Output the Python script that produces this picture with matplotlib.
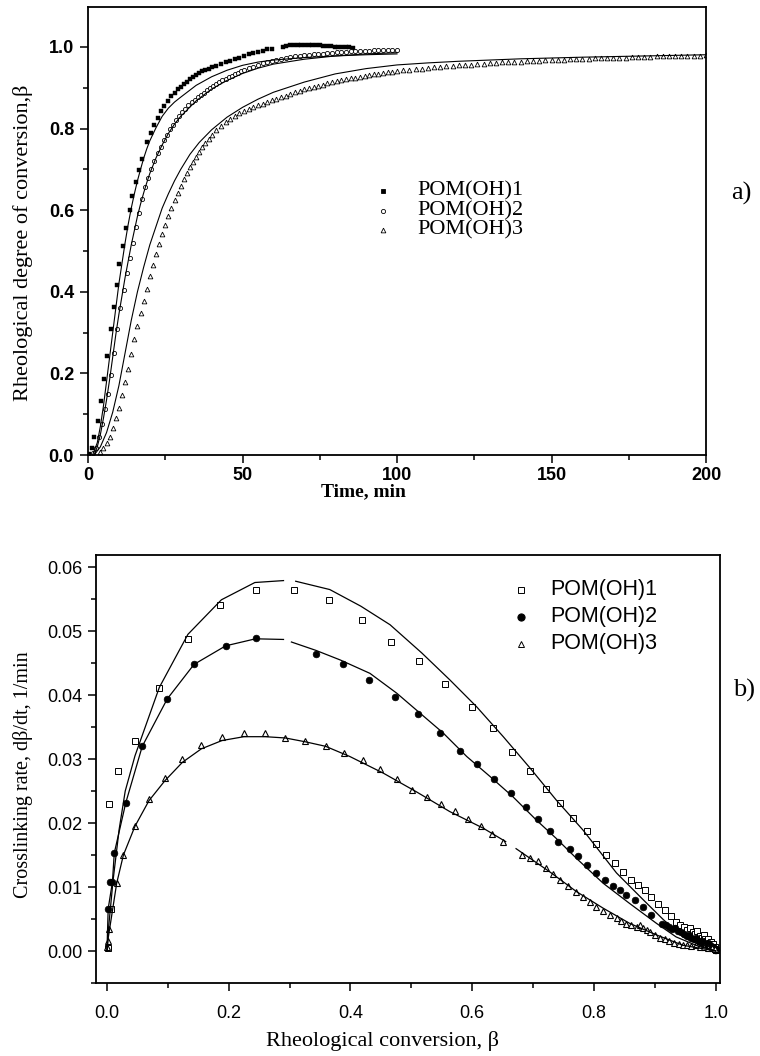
import numpy as np
import matplotlib
matplotlib.use("Agg")
import matplotlib.pyplot as plt
from matplotlib.ticker import MultipleLocator

SERIF = ["Liberation Serif", "DejaVu Serif"]
SANS = ["Liberation Sans", "DejaVu Sans"]

labels = ["POM(OH)1", "POM(OH)2", "POM(OH)3"]

# ---------------- panel a: conversion vs time ----------------
t1 = [0.4, 1.2, 2.0, 3.1, 4.1, 5.2, 6.3, 7.3, 8.4, 9.3, 10.0, 11.2, 12.3, 13.6,
      14.4, 15.5, 16.5, 17.6, 19.0, 20.3, 21.4, 22.5, 23.6, 24.7, 25.8, 26.9,
      28.0, 29.0, 30.0, 31.0, 32.0, 33.0, 34.0, 35.0, 36.0, 37.0, 38.0, 39.0,
      40.0, 41.5, 43.0, 44.5, 46.0, 47.5, 49.0, 50.5, 52.0, 53.5, 55.0, 56.5,
      58.0, 59.5, 63.0, 64.2, 65.4, 66.6, 67.8, 69.0, 70.2, 71.4, 72.6, 73.8,
      75.0, 76.2, 77.4, 78.6, 79.8, 81.0, 82.2, 83.4, 84.6, 85.8]
b1 = [0.003, 0.016, 0.043, 0.083, 0.132, 0.186, 0.242, 0.308, 0.363, 0.416,
      0.467, 0.513, 0.556, 0.601, 0.636, 0.668, 0.699, 0.725, 0.768, 0.790,
      0.809, 0.826, 0.842, 0.856, 0.868, 0.879, 0.888, 0.896, 0.902, 0.909,
      0.915, 0.921, 0.926, 0.931, 0.936, 0.940, 0.943, 0.947, 0.950, 0.954,
      0.958, 0.962, 0.966, 0.970, 0.974, 0.978, 0.982, 0.985, 0.988, 0.991,
      0.994, 0.996, 1.001, 1.003, 1.004, 1.005, 1.006, 1.006, 1.006, 1.006,
      1.005, 1.005, 1.004, 1.003, 1.003, 1.002, 1.001, 1.000, 1.000, 0.999,
      0.999, 0.998]

t2 = [1.5, 2.5, 3.5, 4.5, 5.5, 6.5, 7.5, 8.5, 9.5, 10.5, 11.5, 12.5, 13.5,
      14.5, 15.5, 16.5, 17.5, 18.5, 19.5, 20.5, 21.5, 22.5, 23.5, 24.5, 25.5,
      26.5, 27.5, 28.5, 29.5, 30.5, 31.5, 32.5, 33.5, 34.5, 35.5, 36.5, 37.5,
      38.5, 39.5, 40.5, 41.5, 42.5, 43.5, 44.5, 45.5, 46.5, 47.5, 48.5, 49.5,
      50.5, 52.0, 53.5, 55.0, 56.5, 58.0, 59.5, 61.0, 62.5, 64.0, 65.5, 67.0,
      68.5, 70.0, 71.5, 73.0, 74.5, 76.0, 77.5, 79.0, 80.5, 82.0, 83.5, 85.0,
      86.5, 88.0, 89.5, 91.0, 92.5, 94.0, 95.5, 97.0, 98.5, 100.0]
b2 = [0.005, 0.018, 0.045, 0.077, 0.112, 0.150, 0.195, 0.250, 0.310, 0.360,
      0.405, 0.445, 0.482, 0.520, 0.558, 0.593, 0.628, 0.656, 0.680, 0.702,
      0.721, 0.739, 0.756, 0.771, 0.785, 0.798, 0.810, 0.821, 0.831, 0.840,
      0.849, 0.857, 0.864, 0.871, 0.877, 0.883, 0.888, 0.894, 0.899, 0.904,
      0.909, 0.914, 0.918, 0.922, 0.926, 0.930, 0.933, 0.937, 0.940, 0.943,
      0.948, 0.952, 0.956, 0.960, 0.963, 0.966, 0.968, 0.971, 0.973, 0.975,
      0.977, 0.978, 0.980, 0.981, 0.982, 0.983, 0.984, 0.985, 0.986, 0.987,
      0.988, 0.988, 0.989, 0.990, 0.990, 0.991, 0.991, 0.992, 0.992, 0.992,
      0.993, 0.993, 0.993]

t3 = [3.9, 5.0, 6.0, 7.0, 8.0, 9.0, 10.0, 11.0, 12.0, 13.0, 14.0, 15.0, 16.0,
      17.0, 18.0, 19.0, 20.0, 21.0, 22.0, 23.0, 24.0, 25.0, 26.0, 27.0, 28.0,
      29.0, 30.0, 31.0, 32.0, 33.0, 34.0, 35.0, 36.0, 37.0, 38.0, 39.0, 40.0,
      41.5, 43.0, 44.5, 46.0, 47.5, 49.0, 50.5, 52.0, 53.5, 55.0, 56.5, 58.0,
      59.5, 61.0, 62.5, 64.0, 65.5, 67.0, 68.5, 70.0, 71.5, 73.0, 74.5, 76.0,
      77.5, 79.0, 80.5, 82.0, 83.5, 85.0, 86.5, 88.0, 89.5, 91.0, 92.5, 94.0,
      95.5, 97.0, 98.5, 100, 102, 104, 106, 108, 110, 112, 114, 116, 118, 120,
      122, 124, 126, 128, 130, 132, 134, 136, 138, 140, 142, 144, 146, 148,
      150, 152, 154, 156, 158, 160, 162, 164, 166, 168, 170, 172, 174, 176,
      178, 180, 182, 184, 186, 188, 190, 192, 194, 196, 198, 200]
b3 = [0.008, 0.017, 0.029, 0.045, 0.066, 0.090, 0.115, 0.147, 0.180, 0.212,
      0.247, 0.284, 0.316, 0.347, 0.377, 0.408, 0.438, 0.466, 0.493, 0.518,
      0.542, 0.563, 0.585, 0.605, 0.625, 0.643, 0.660, 0.676, 0.691, 0.705,
      0.718, 0.731, 0.743, 0.754, 0.765, 0.775, 0.784, 0.796, 0.806, 0.815,
      0.823, 0.830, 0.837, 0.843, 0.848, 0.853, 0.857, 0.861, 0.865, 0.869,
      0.873, 0.877, 0.881, 0.885, 0.889, 0.893, 0.896, 0.899, 0.902, 0.905,
      0.908, 0.911, 0.914, 0.917, 0.919, 0.921, 0.923, 0.925, 0.927, 0.929,
      0.931, 0.933, 0.935, 0.936, 0.938, 0.939, 0.941, 0.943, 0.944, 0.946,
      0.947, 0.949, 0.950, 0.951, 0.953, 0.954, 0.955, 0.956, 0.957, 0.958,
      0.959, 0.960, 0.961, 0.962, 0.963, 0.963, 0.964, 0.965, 0.966, 0.966,
      0.967, 0.968, 0.968, 0.969, 0.970, 0.970, 0.971, 0.971, 0.972, 0.972,
      0.973, 0.973, 0.974, 0.974, 0.975, 0.975, 0.976, 0.976, 0.977, 0.977,
      0.977, 0.978, 0.978, 0.978, 0.979, 0.979, 0.980]

# model curves for panel a
ft1 = [1.5, 3, 4, 5, 6, 7, 8, 9, 10, 11, 12, 13, 14, 15, 16, 17, 18, 19, 20,
       22, 24, 26, 28, 30, 35, 40, 45, 50, 55, 60, 70, 80, 90, 100]
fb1 = [0.0, 0.03, 0.07, 0.12, 0.18, 0.24, 0.30, 0.36, 0.42, 0.47, 0.52, 0.565,
       0.605, 0.64, 0.672, 0.70, 0.727, 0.75, 0.77, 0.802, 0.83, 0.85, 0.865,
       0.877, 0.906, 0.927, 0.943, 0.955, 0.963, 0.968, 0.974, 0.978, 0.981,
       0.983]
ft2 = [2, 3, 4, 5, 6, 7, 8, 9, 10, 11, 12, 13, 14, 15, 16, 17, 18, 19, 20,
       22, 24, 26, 28, 30, 35, 40, 45, 50, 55, 60, 70, 80, 90, 100]
fb2 = [0.0, 0.02, 0.05, 0.09, 0.135, 0.185, 0.24, 0.295, 0.345, 0.39, 0.435,
       0.475, 0.515, 0.55, 0.585, 0.615, 0.642, 0.667, 0.69, 0.728, 0.76,
       0.788, 0.811, 0.83, 0.868, 0.897, 0.918, 0.935, 0.948, 0.958, 0.97,
       0.978, 0.983, 0.986]
ft3 = [2, 4, 6, 8, 10, 12, 14, 16, 18, 20, 22, 24, 26, 28, 30, 33, 36, 40, 45,
       50, 55, 60, 70, 80, 90, 100, 110, 120, 140, 160, 180, 200]
fb3 = [0.0, 0.02, 0.055, 0.105, 0.17, 0.25, 0.33, 0.40, 0.46, 0.515, 0.56,
       0.605, 0.64, 0.672, 0.70, 0.737, 0.766, 0.797, 0.828, 0.852, 0.872,
       0.889, 0.914, 0.934, 0.947, 0.956, 0.961, 0.965, 0.971, 0.975, 0.978,
       0.981]

# ---------------- panel b: rate vs conversion ----------------
x1 = [0.001, 0.0066, 0.0033, 0.018, 0.046, 0.086, 0.133, 0.186, 0.244, 0.308,
      0.365, 0.419, 0.466, 0.513, 0.555, 0.599, 0.634, 0.666, 0.695, 0.722,
      0.744, 0.766, 0.788, 0.804, 0.820, 0.834, 0.848, 0.861, 0.872, 0.883,
      0.894, 0.905, 0.916, 0.927, 0.935, 0.942, 0.948, 0.953, 0.958, 0.962,
      0.966, 0.970, 0.974, 0.977, 0.980, 0.983, 0.986, 0.988, 0.990, 0.992,
      0.994, 0.996, 0.998, 0.999, 1.0]
r1 = [0.0004, 0.0066, 0.0230, 0.0282, 0.0328, 0.0411, 0.0488, 0.0541, 0.0564,
      0.0564, 0.0549, 0.0517, 0.0483, 0.0454, 0.0418, 0.0382, 0.0348, 0.0311,
      0.0281, 0.0254, 0.0231, 0.0208, 0.0187, 0.0168, 0.0150, 0.0138, 0.0124,
      0.0111, 0.0103, 0.0095, 0.0085, 0.0074, 0.0064, 0.0055, 0.0045, 0.0040,
      0.0037, 0.0033, 0.0036, 0.0030, 0.0027, 0.0031, 0.0024, 0.0021, 0.0025,
      0.0018, 0.0015, 0.0019, 0.0012, 0.0014, 0.0009, 0.0011, 0.0006, 0.0003,
      0.0001]

x2 = [0.002, 0.005, 0.009, 0.012, 0.031, 0.058, 0.099, 0.143, 0.195, 0.244,
      0.343, 0.388, 0.431, 0.473, 0.511, 0.547, 0.580, 0.608, 0.635, 0.663,
      0.688, 0.708, 0.727, 0.741, 0.760, 0.774, 0.789, 0.804, 0.818, 0.831,
      0.842, 0.853, 0.867, 0.881, 0.894, 0.911, 0.918, 0.923, 0.928, 0.933,
      0.938, 0.943, 0.948, 0.952, 0.956, 0.960, 0.964, 0.968, 0.972, 0.975,
      0.978, 0.981, 0.984, 0.987, 0.989, 0.991, 0.993, 0.995, 0.997, 0.998,
      0.999, 1.0]
r2 = [0.0066, 0.0108, 0.0108, 0.0153, 0.0232, 0.0320, 0.0394, 0.0448, 0.0477,
      0.0489, 0.0465, 0.0449, 0.0424, 0.0397, 0.0371, 0.0340, 0.0312, 0.0293,
      0.0269, 0.0247, 0.0225, 0.0206, 0.0187, 0.0170, 0.0159, 0.0149, 0.0135,
      0.0122, 0.0111, 0.0102, 0.0095, 0.0088, 0.0080, 0.0069, 0.0056, 0.0043,
      0.0040, 0.0038, 0.0035, 0.0036, 0.0031, 0.0029, 0.0027, 0.0024, 0.0025,
      0.0021, 0.0019, 0.0020, 0.0016, 0.0014, 0.0016, 0.0012, 0.0010, 0.0012,
      0.0008, 0.0009, 0.0006, 0.0007, 0.0004, 0.0002, 0.0003, 0.0001]

x3 = [0.0006, 0.002, 0.0033, 0.016, 0.027, 0.046, 0.069, 0.095, 0.124, 0.155,
      0.189, 0.225, 0.260, 0.293, 0.326, 0.359, 0.389, 0.421, 0.449, 0.476,
      0.501, 0.526, 0.549, 0.572, 0.593, 0.615, 0.633, 0.651, 0.681, 0.695,
      0.708, 0.722, 0.733, 0.744, 0.757, 0.771, 0.782, 0.793, 0.804, 0.815,
      0.826, 0.837, 0.845, 0.853, 0.861, 0.870, 0.876, 0.881, 0.887, 0.892,
      0.900, 0.908, 0.916, 0.924, 0.932, 0.939, 0.946, 0.953, 0.960, 0.967,
      0.974, 0.981, 0.988, 0.994, 0.998]
r3 = [0.0007, 0.0015, 0.0035, 0.0106, 0.0150, 0.0196, 0.0237, 0.0270, 0.0300,
      0.0322, 0.0334, 0.0341, 0.0341, 0.0333, 0.0328, 0.0320, 0.0309, 0.0298,
      0.0284, 0.0269, 0.0252, 0.0240, 0.0230, 0.0219, 0.0207, 0.0196, 0.0183,
      0.0171, 0.0150, 0.0145, 0.0140, 0.0129, 0.0120, 0.0111, 0.0102, 0.0093,
      0.0085, 0.0077, 0.0069, 0.0063, 0.0056, 0.0051, 0.0047, 0.0043, 0.0040,
      0.0038, 0.0040, 0.0036, 0.0033, 0.0030, 0.0025, 0.0020, 0.0018, 0.0015,
      0.0013, 0.0011, 0.0009, 0.0010, 0.0008, 0.0009, 0.0007, 0.0006, 0.0005,
      0.0004, 0.0003]

# model curves for panel b (nan marks a break in the drawn curve)
fx1 = [0, 0.003, 0.01, 0.02, 0.03, 0.046, 0.086, 0.133, 0.188, 0.243, 0.29,
       np.nan, 0.31, 0.366, 0.417, 0.465, 0.517, 0.563, 0.607, 0.651, 0.695,
       0.738, 0.782, 0.837, 0.881, 0.914, 0.946, 0.979, 1.0]
fr1 = [0, 0.004, 0.011, 0.019, 0.025, 0.0305, 0.0412, 0.0495, 0.0549, 0.0576,
       0.0579, np.nan, 0.0578, 0.0565, 0.0539, 0.0510, 0.0466, 0.0424, 0.0382,
       0.0335, 0.0286, 0.0236, 0.0189, 0.0122, 0.0080, 0.0049, 0.0022, 0.0007,
       0.0]
fx2 = [0, 0.002, 0.009, 0.012, 0.031, 0.058, 0.099, 0.143, 0.195, 0.244, 0.29,
       np.nan, 0.303, 0.343, 0.383, 0.432, 0.476, 0.514, 0.552, 0.591, 0.629,
       0.667, 0.705, 0.738, 0.771, 0.815, 0.859, 0.903, 0.935, 0.97, 1.0]
fr2 = [0, 0.0066, 0.0108, 0.0153, 0.0232, 0.032, 0.0394, 0.0448, 0.0477,
       0.0488, 0.0487, np.nan, 0.0483, 0.0470, 0.0455, 0.0434, 0.0403, 0.0372,
       0.0341, 0.0304, 0.0273, 0.0241, 0.0205, 0.0176, 0.0145, 0.0106, 0.0074,
       0.0043, 0.0022, 0.0008, 0.0]
fx3 = [0, 0.002, 0.016, 0.027, 0.046, 0.069, 0.095, 0.124, 0.155, 0.189,
       0.225, 0.26, 0.293, 0.326, 0.359, 0.399, 0.454, 0.508, 0.563, 0.618,
       0.655, np.nan, 0.672, 0.727, 0.771, 0.815, 0.859, 0.903, 0.946, 1.0]
fr3 = [0, 0.002, 0.0106, 0.015, 0.0195, 0.0235, 0.0266, 0.0295, 0.0316,
       0.0329, 0.0335, 0.0335, 0.0333, 0.0327, 0.0320, 0.0304, 0.0278, 0.0249,
       0.0218, 0.0192, 0.0171, np.nan, 0.0160, 0.0124, 0.0093, 0.0067, 0.0043,
       0.0025, 0.0009, 0.0]

# ---------------- drawing ----------------
W, H = 760, 1056
fig = plt.figure(figsize=(W / 100, H / 100), dpi=100)


def frame(px_left, px_right, px_top, px_bottom):
    return fig.add_axes([px_left / W, 1 - px_bottom / H,
                         (px_right - px_left) / W, (px_bottom - px_top) / H])


def style_axes(ax, weight):
    for s in ax.spines.values():
        s.set_linewidth(1.3)
    ax.tick_params(which="both", direction="out", top=False, right=False,
                   width=1.1)
    ax.tick_params(which="major", length=6, pad=4)
    ax.tick_params(which="minor", length=3.5)
    for lab in ax.get_xticklabels() + ax.get_yticklabels():
        lab.set_family(SANS)
        lab.set_fontweight(weight)
        lab.set_fontsize(13)


# panel a
axa = frame(88, 706, 7, 455)
axa.plot(t1, b1, ls="none", marker="s", ms=2.6, mfc="black", mec="black",
         mew=0.3)
axa.plot(t2, b2, ls="none", marker="o", ms=3.0, mfc="white", mec="black",
         mew=0.6)
axa.plot(t3, b3, ls="none", marker="^", ms=3.4, mfc="white", mec="black",
         mew=0.6)
for ft, fb in ((ft1, fb1), (ft2, fb2), (ft3, fb3)):
    axa.plot(ft, fb, color="black", lw=0.8)
axa.set_xlim(0, 200)
axa.set_ylim(0, 1.098)
axa.xaxis.set_minor_locator(MultipleLocator(25))
axa.yaxis.set_minor_locator(MultipleLocator(0.1))
axa.set_yticks([0.0, 0.2, 0.4, 0.6, 0.8, 1.0])
axa.set_yticklabels(["0.0", "0.2", "0.4", "0.6", "0.8", "1.0"])
axa.set_xticks([0, 50, 100, 150, 200])
axa.set_xticklabels(["0", "50", "100", "150", "200"])
style_axes(axa, "bold")
axa.tick_params(axis="x", which="major", pad=3)
axa.set_ylabel("Rheological degree of conversion,\u03b2", family=SERIF,
               fontsize=16)
axa.yaxis.set_label_coords((33 - 88) / 618, (455 - 243) / 448)
axa.set_xlabel("Time, min", family=SERIF, fontsize=14, fontweight="bold")
axa.xaxis.set_label_coords((363 - 88) / 618, (455 - 483) / 448)

# legend of panel a drawn as marker + text rows
leg_a = [("s", "black", 2.8), ("o", "white", 3.0), ("^", "white", 3.4)]
for i, ((mk, fc, ms), lab) in enumerate(zip(leg_a, labels)):
    yy = (455 - (191 + 19.5 * i)) / 448
    axa.plot([(383 - 88) / 618], [yy], marker=mk, ms=ms, mfc=fc, mec="black",
             mew=0.6, transform=axa.transAxes, clip_on=False)
    axa.text((417 - 88) / 618, yy, lab, transform=axa.transAxes,
             family=SERIF, fontsize=16, va="center", ha="left")

fig.text(741 / W, 1 - 193 / H, "a)", family=SERIF, fontsize=19,
         ha="center", va="center")

# panel b
axb = frame(96, 720, 555, 983)
axb.plot(x1, r1, ls="none", marker="s", ms=4.0, mfc="white", mec="black",
         mew=0.7)
axb.plot(x2, r2, ls="none", marker="o", ms=4.8, mfc="black", mec="black",
         mew=0.5)
axb.plot(x3, r3, ls="none", marker="^", ms=5.0, mfc="white", mec="black",
         mew=0.8)
for fx, fr in ((fx1, fr1), (fx2, fr2), (fx3, fr3)):
    axb.plot(fx, fr, color="black", lw=0.9)
axb.set_xlim(-0.018, 1.007)
axb.set_ylim(-0.005, 0.0619)
axb.set_xticks([0.0, 0.2, 0.4, 0.6, 0.8, 1.0])
axb.set_xticklabels(["0.0", "0.2", "0.4", "0.6", "0.8", "1.0"])
axb.xaxis.set_minor_locator(MultipleLocator(0.1))
axb.set_yticks([0.00, 0.01, 0.02, 0.03, 0.04, 0.05, 0.06])
axb.set_yticklabels(["0.00", "0.01", "0.02", "0.03", "0.04", "0.05", "0.06"])
axb.yaxis.set_minor_locator(MultipleLocator(0.005))
style_axes(axb, "normal")
axb.tick_params(axis="x", which="major", pad=10)
axb.set_ylabel("Crosslinking rate, d\u03b2/dt, 1/min", family=SERIF,
               fontsize=14.5)
axb.yaxis.set_label_coords((33 - 96) / 624, (983 - 775) / 428)
axb.set_xlabel("Rheological conversion, \u03b2", family=SERIF, fontsize=16)
axb.xaxis.set_label_coords((383 - 96) / 624, (983 - 1031) / 428)

leg_b = [("s", "white", 4.0), ("o", "black", 5.2), ("^", "white", 4.6)]
for i, ((mk, fc, ms), lab) in enumerate(zip(leg_b, labels)):
    yy = (983 - (589.5 + 27 * i)) / 428
    axb.plot([(521 - 96) / 624], [yy], marker=mk, ms=ms, mfc=fc, mec="black",
             mew=0.7, transform=axb.transAxes, clip_on=False)
    axb.text((550 - 96) / 624, yy, lab, transform=axb.transAxes,
             family=SANS, fontsize=15.5, va="center", ha="left")

fig.text(744 / W, 1 - 690 / H, "b)", family=SERIF, fontsize=19,
         ha="center", va="center")

fig.savefig("out.png", dpi=100)
